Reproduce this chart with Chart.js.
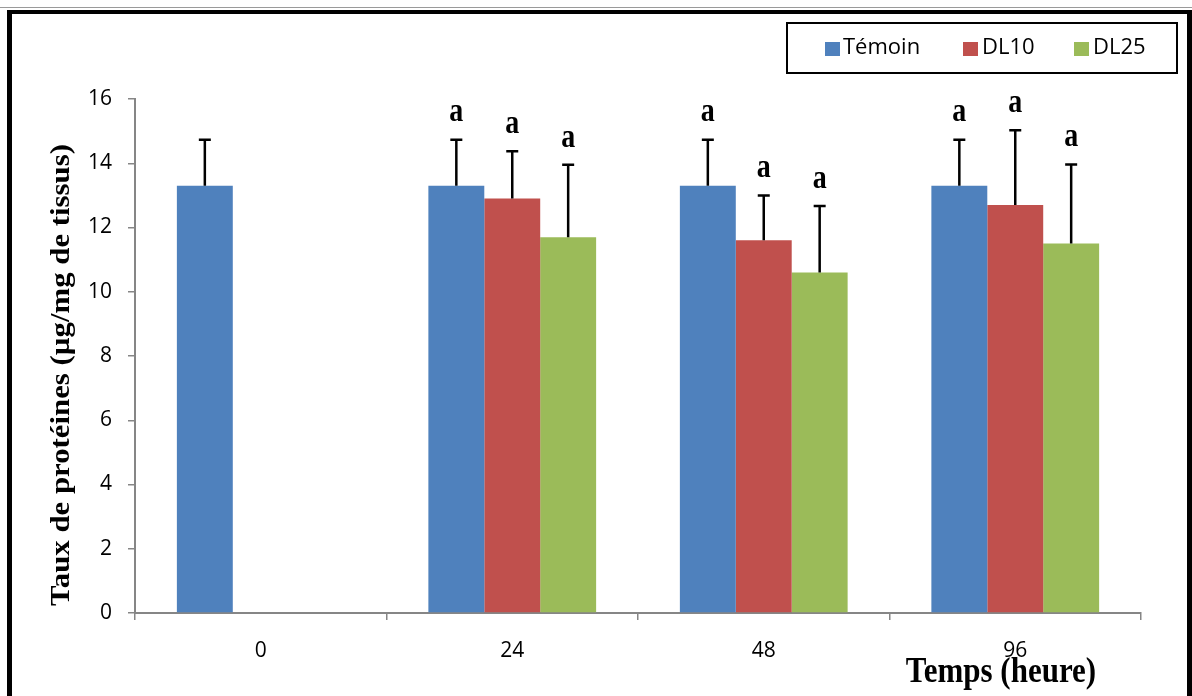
<!DOCTYPE html>
<html>
<head>
<meta charset="utf-8">
<title>Taux de protéines</title>
<script src="https://cdn.jsdelivr.net/npm/chart.js@4/dist/chart.umd.min.js"></script>
<style>
  html, body { margin: 0; padding: 0; background: #ffffff; }
  #wrap { width: 1192px; height: 696px; }
</style>
</head>
<body>
<div id="wrap"><canvas id="c" width="1192" height="696"></canvas></div>
<script>
// Sampling times (hours)
const categories = ['0', '24', '48', '96'];

// Series labels
const seriesNames = ['Témoin', 'DL10', 'DL25'];

// Protein content (µg/mg de tissus)
const temoin = [13.3, 13.3, 13.3, 13.3];
const dl10   = [null, 12.9, 11.6, 12.7];
const dl25   = [null, 11.7, 10.6, 11.5];

// Standard deviations (upper error bars)
const errTemoin = [1.43, 1.43, 1.43, 1.43];
const errDl10   = [null, 1.47, 1.40, 2.33];
const errDl25   = [null, 2.25, 2.07, 2.46];

// Statistical group letters
const sigTemoin = ['', 'a', 'a', 'a'];
const sigDl10   = ['', 'a', 'a', 'a'];
const sigDl25   = ['', 'a', 'a', 'a'];

// Y axis ticks
const yTicks = [0, 2, 4, 6, 8, 10, 12, 14, 16];

const colors = ['#4F81BD', '#C0504D', '#9BBB59'];
const axisGrey = '#868686';

const errors = [errTemoin, errDl10, errDl25];
const letters = [sigTemoin, sigDl10, sigDl25];

// Upper error bars + significance letters on top of each bar
const errorBarPlugin = {
  id: 'errorBars',
  afterDatasetsDraw(chart) {
    const ctx = chart.ctx;
    const yScale = chart.scales.y;
    chart.data.datasets.forEach((ds, i) => {
      const meta = chart.getDatasetMeta(i);
      meta.data.forEach((bar, j) => {
        const v = ds.data[j];
        const e = errors[i][j];
        if (v == null || e == null) return;
        const top = yScale.getPixelForValue(v + e);
        ctx.save();
        ctx.strokeStyle = '#000';
        ctx.lineWidth = 2.5;
        ctx.beginPath();
        ctx.moveTo(bar.x, bar.y);
        ctx.lineTo(bar.x, top);
        ctx.moveTo(bar.x - 6, top);
        ctx.lineTo(bar.x + 6, top);
        ctx.stroke();
        const txt = letters[i][j];
        if (txt) {
          ctx.translate(bar.x, top - 27);
          ctx.scale(1, 1.2);
          ctx.fillStyle = '#000';
          ctx.font = 'bold 28px "Liberation Serif", "Times New Roman", serif';
          ctx.textAlign = 'center';
          ctx.textBaseline = 'middle';
          ctx.fillText(txt, 0, 0);
        }
        ctx.restore();
      });
    });
  }
};

// Frame, legend box and axis titles
const decorPlugin = {
  id: 'decor',
  beforeDraw(chart) {
    const ctx = chart.ctx;
    ctx.save();
    ctx.fillStyle = '#ffffff';
    ctx.fillRect(0, 0, chart.width, chart.height);
    ctx.restore();
  },
  afterDraw(chart) {
    const ctx = chart.ctx;
    ctx.save();
    // outer frame
    ctx.strokeStyle = '#9a9a9a';
    ctx.lineWidth = 1;
    ctx.beginPath();
    ctx.moveTo(0, 7.5); ctx.lineTo(1192, 7.5);
    ctx.stroke();
    ctx.fillStyle = '#000';
    ctx.fillRect(7, 10, 1185, 4);
    ctx.fillRect(7, 10, 5, 686);
    ctx.fillRect(1187, 10, 5, 686);

    // legend
    ctx.strokeStyle = '#000';
    ctx.lineWidth = 2;
    ctx.strokeRect(787, 23, 390, 50);
    const items = [
      { x: 825, tx: 843 },
      { x: 963, tx: 982 },
      { x: 1074, tx: 1093 }
    ];
    ctx.font = '22px "Open Sans", "Liberation Sans", sans-serif';
    ctx.textBaseline = 'middle';
    ctx.textAlign = 'left';
    chart.data.datasets.forEach((ds, i) => {
      const it = items[i];
      ctx.fillStyle = ds.backgroundColor;
      ctx.fillRect(it.x, 42, 15, 14);
      ctx.fillStyle = '#000';
      ctx.fillText(ds.label, it.tx, 48);
    });

    // y title
    ctx.save();
    ctx.translate(62, 375);
    ctx.rotate(-Math.PI / 2);
    ctx.scale(1.1, 1);
    ctx.font = 'bold 28px "Liberation Serif", "Times New Roman", serif';
    ctx.textAlign = 'center';
    ctx.textBaseline = 'middle';
    ctx.fillStyle = '#000';
    ctx.fillText('Taux de protéines (µg/mg de tissus)', 0, 0);
    ctx.restore();

    // x title
    ctx.save();
    ctx.translate(1001, 682);
    ctx.scale(1, 1.13);
    ctx.font = 'bold 31px "Liberation Serif", "Times New Roman", serif';
    ctx.textAlign = 'center';
    ctx.textBaseline = 'alphabetic';
    ctx.fillStyle = '#000';
    ctx.fillText('Temps (heure)', 0, 0);
    ctx.restore();

    ctx.restore();
  }
};

const tickFont = { family: '"Open Sans", "Liberation Sans", sans-serif', size: 21 };

new Chart(document.getElementById('c'), {
  type: 'bar',
  data: {
    labels: categories,
    datasets: [
      { label: seriesNames[0], data: temoin, backgroundColor: colors[0] },
      { label: seriesNames[1], data: dl10,   backgroundColor: colors[1] },
      { label: seriesNames[2], data: dl25,   backgroundColor: colors[2] }
    ]
  },
  options: {
    responsive: false,
    animation: false,
    devicePixelRatio: 1,
    layout: { padding: { top: 99, right: 51, bottom: 0, left: 0 } },
    datasets: {
      bar: { categoryPercentage: 0.667, barPercentage: 1.0, borderWidth: 0 }
    },
    plugins: {
      legend: { display: false },
      tooltip: { enabled: false }
    },
    scales: {
      x: {
        type: 'category',
        offset: true,
        grid: {
          offset: true,
          drawOnChartArea: false,
          drawTicks: true,
          tickLength: 7,
          color: axisGrey,
          lineWidth: 1.5
        },
        border: { display: true, color: axisGrey, width: 2 },
        ticks: { color: '#000', font: tickFont, padding: 18, maxRotation: 0 },
        afterFit(scale) { scale.height = 83; }
      },
      y: {
        min: 0,
        max: 16,
        afterBuildTicks(scale) { scale.ticks = yTicks.map(v => ({ value: v })); },
        grid: {
          drawOnChartArea: false,
          drawTicks: true,
          tickLength: 7,
          color: axisGrey,
          lineWidth: 1.5
        },
        border: { display: true, color: axisGrey, width: 2 },
        ticks: { color: '#000', font: tickFont, padding: 16 },
        afterFit(scale) { scale.width = 135; }
      }
    }
  },
  plugins: [errorBarPlugin, decorPlugin]
});
</script>
</body>
</html>
